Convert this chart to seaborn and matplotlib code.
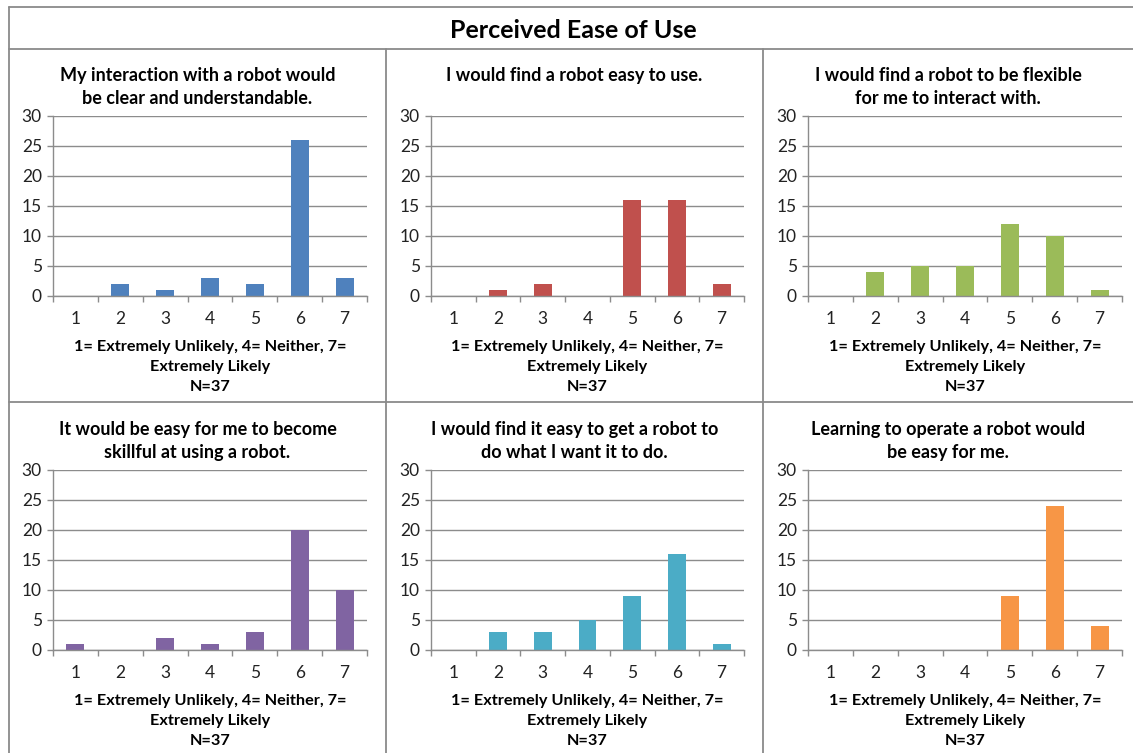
import matplotlib
matplotlib.use("Agg")
import matplotlib.pyplot as plt
from matplotlib.lines import Line2D
import seaborn as sns

# Survey responses (counts per rating, 1..7), N=37
ratings = ["1", "2", "3", "4", "5", "6", "7"]

clear_understandable = [0, 2, 1, 3, 2, 26, 3]
easy_to_use = [0, 1, 2, 0, 16, 16, 2]
flexible = [0, 4, 5, 5, 12, 10, 1]
become_skillful = [1, 0, 2, 1, 3, 20, 10]
do_what_i_want = [0, 3, 3, 5, 9, 16, 1]
learning_easy = [0, 0, 0, 0, 9, 24, 4]

titles = [
    "My interaction with a robot would\nbe clear and understandable.",
    "I would find a robot easy to use.",
    "I would find a robot to be flexible\nfor me to interact with.",
    "It would be easy for me to become\nskillful at using a robot.",
    "I would find it easy to get a robot to\ndo what I want it to do.",
    "Learning to operate a robot would\nbe easy for me.",
]
series = [clear_understandable, easy_to_use, flexible,
          become_skillful, do_what_i_want, learning_easy]
colors = ["#4F81BD", "#C0504D", "#9BBB59", "#8064A2", "#4BACC6", "#F79646"]

main_title = "Perceived Ease of Use"
x_caption = "1= Extremely Unlikely, 4= Neither, 7=\nExtremely Likely\nN=37"

sns.set_theme(style="white")
plt.rcParams["font.family"] = ["Lato", "DejaVu Sans"]

W, H = 1133, 753
fig = plt.figure(figsize=(W / 100, H / 100), dpi=100)
fig.patch.set_facecolor("white")


def fx(x):
    return x / W


def fy(y):
    return 1 - y / H


# panel grid (pixel coordinates)
col_left = [53, 431, 808]
col_right = [367, 744, 1122]
panel_center = [197.5, 574.5, 948]
row_top = [116, 470]
row_bottom = [296, 650]

grid_col = "#8C8C8C"
border_col = "#8A8A8A"

# frame lines
frame = [
    ((9, 1133), (7, 7)),
    ((9, 9), (7, 753)),
    ((9, 1133), (49, 49)),
    ((9, 1133), (402, 402)),
    ((386, 386), (49, 753)),
    ((763, 763), (49, 753)),
]
for xs, ys in frame:
    fig.add_artist(Line2D([fx(xs[0]), fx(xs[1])], [fy(ys[0]), fy(ys[1])],
                          color=border_col, lw=1.3))

fig.text(fx(573), fy(30), main_title, ha="center", va="center",
         fontsize=18, fontweight="bold", color="black")

for i, (vals, title, color) in enumerate(zip(series, titles, colors)):
    r, c = divmod(i, 3)
    l, rr = col_left[c], col_right[c]
    t, b = row_top[r], row_bottom[r]
    ax = fig.add_axes([fx(l), fy(b), fx(rr - l), (b - t) / H])
    sns.barplot(x=ratings, y=vals, color=color, saturation=1, width=0.4,
                linewidth=0, ax=ax)
    ax.set_xlim(-0.5, 6.5)
    ax.set_ylim(0, 30)
    ax.set_yticks([0, 5, 10, 15, 20, 25, 30])
    ax.set_xlabel("")
    ax.set_ylabel("")
    ax.set_facecolor("white")
    for s in ["top", "right"]:
        ax.spines[s].set_visible(False)
    ax.spines["left"].set_color(grid_col)
    ax.spines["bottom"].set_color(grid_col)
    ax.spines["left"].set_linewidth(1)
    ax.spines["bottom"].set_linewidth(1)
    ax.yaxis.grid(True, color=grid_col, lw=1)
    ax.set_axisbelow(True)
    ax.tick_params(axis="y", length=4, width=1, color=grid_col, left=True,
                   labelsize=12.5, pad=4, labelcolor="#222222")
    ax.tick_params(axis="x", which="major", length=0, labelsize=12.5, pad=11,
                   labelcolor="#222222")
    ax.set_xticks([k - 0.5 for k in range(8)], minor=True)
    ax.tick_params(axis="x", which="minor", length=4, width=1,
                   color=grid_col, bottom=True)

    # panel title and rating caption
    fig.text(fx(panel_center[c]), fy(t - 49), title, ha="center",
             va="top", fontsize=13, fontweight="bold", linespacing=1.45,
             color="black")
    fig.text(fx((l + rr) / 2), fy(b + 44), x_caption, ha="center",
             va="top", fontsize=11.7, fontweight="bold", linespacing=1.55,
             color="black")

fig.savefig("out.png", dpi=100, facecolor="white")
